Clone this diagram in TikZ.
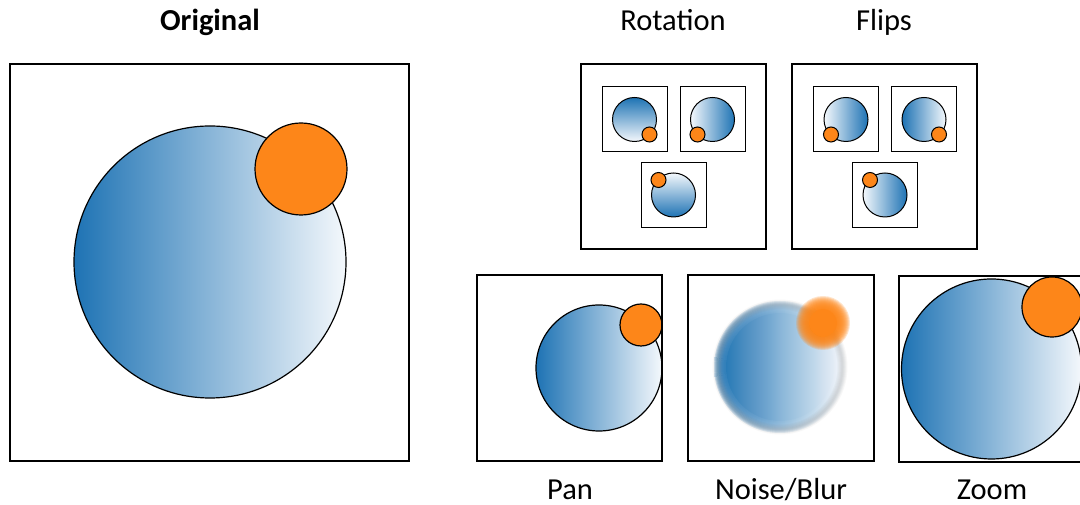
\documentclass[tikz,border=0pt]{standalone}
\usepackage{fontspec}
\setmainfont{Carlito}

\definecolor{discblue}{RGB}{30,115,180}
\definecolor{discpale}{RGB}{244,248,252}
\definecolor{dotorange}{RGB}{253,134,25}

\tikzset{%
	panel/.style={draw, line width=1.3pt},
	thumb/.style={draw, line width=1pt},
	disc/.style={draw, line width=1.2pt},
	dot/.style={draw, fill=dotorange, line width=1.2pt},
	caption/.style={font=\fontsize{30.5}{36}\selectfont, anchor=base, inner sep=0pt},
	captionbold/.style={caption, font=\fontsize{30.5}{36}\selectfont\bfseries},
	haze/.style={opacity=0.22},
}

% small sample: centre, shading, offset of the dot
\newcommand{\thumbnail}[3]{%
	\draw[thumb] (#1) ++(-32.5,-32.5) rectangle ++(65,65);
	\shadedraw[disc, line width=1pt, #2] (#1) circle (22);
	\filldraw[dot, line width=1pt] (#1) ++(#3) circle (7.5);
}

\begin{document}
\begin{tikzpicture}[x=1pt, y=1pt]
	\useasboundingbox (0,0) rectangle (1080,505);

	% Original sample
	\node[captionbold] (original) at (210,474) {Original};
	\draw[panel] (10,44) rectangle (409,441);
	\shadedraw[disc, left color=discblue, right color=discpale] (210,243) circle (136);
	\filldraw[dot] (301,336) circle (46);

	% Rotations
	\node[caption] (rotation) at (673,474) {Rotation};
	\draw[panel] (581,256) rectangle (766,441);
	\coordinate (rot1) at (634.5,385.5);
	\coordinate (rot2) at (712.5,385.5);
	\coordinate (rot3) at (673.5,310);
	\thumbnail{rot1}{top color=discblue, bottom color=discpale}{15,-15}
	\thumbnail{rot2}{left color=discpale, right color=discblue}{-15,-15}
	\thumbnail{rot3}{top color=discpale, bottom color=discblue}{-15,15}

	% Flips
	\node[caption] (flips) at (884,474) {Flips};
	\draw[panel] (792,256) rectangle (977,441);
	\coordinate (flip1) at (846,385.5);
	\coordinate (flip2) at (924,385.5);
	\coordinate (flip3) at (885,310);
	\thumbnail{flip1}{left color=discpale, right color=discblue}{-15,-15}
	\thumbnail{flip2}{left color=discblue, right color=discpale}{15,-15}
	\thumbnail{flip3}{left color=discpale, right color=discblue}{-15,15}

	% Pan
	\begin{scope}
		\clip (477,44) rectangle (662,230);
		\shadedraw[disc, left color=discblue, right color=discpale] (599,137) circle (63);
		\filldraw[dot] (641,180) circle (21);
	\end{scope}
	\draw[panel] (477,44) rectangle (662,230);
	\node[caption] (pan) at (570,5) {Pan};

	% Noise / blur: soft edges from stacked see-through layers
	\shade[left color=discblue, right color=discpale] (780,138) circle (54);
	\foreach \r in {55,...,66}
		\shade[haze, left color=discblue, right color=discpale] (780,138) circle (\r);
	\foreach \w in {2,4,...,10}
		\draw[black!55, opacity=0.05, line width=\w pt] (780,138) circle (62.5);
	\fill[dotorange] (823,182) circle (14);
	\foreach \r in {15,...,27}
		\fill[haze, dotorange] (823,182) circle (\r);
	\draw[panel] (688,44) rectangle (874,230);
	\node[caption] (blur) at (781,5) {Noise/Blur};

	% Zoom
	\begin{scope}
		\clip (899,43) rectangle (1084,229);
		\shadedraw[disc, left color=discblue, right color=discpale] (991.5,136) circle (90);
		\filldraw[dot] (1052,198) circle (30);
	\end{scope}
	\draw[panel] (899,43) rectangle (1084,229);
	\node[caption] (zoom) at (992,5) {Zoom};
\end{tikzpicture}
\end{document}
